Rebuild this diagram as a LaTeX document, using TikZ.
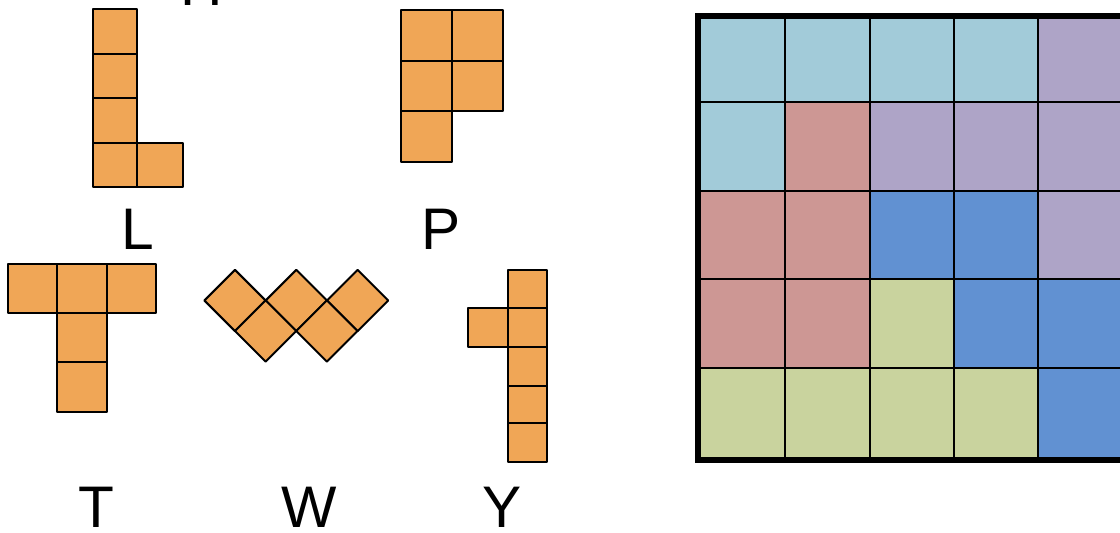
\documentclass[tikz,border=0pt]{standalone}
\usepackage{fontspec}
\setmainfont{Liberation Sans}
\definecolor{orng}{HTML}{F0A656}
\definecolor{lb}{HTML}{A2CBD9}
\definecolor{pu}{HTML}{AEA4C7}
\definecolor{rd}{HTML}{CD9794}
\definecolor{bl}{HTML}{6191D2}
\definecolor{gr}{HTML}{C9D39E}
\begin{document}
\begin{tikzpicture}[x=0.75pt,y=-0.75pt,
  cell/.style={fill=orng,draw=black,line width=1.5pt,line join=round},
  lbl/.style={anchor=base,inner sep=0pt,font=\fontsize{44}{50}\selectfont},
  gridline/.style={draw=black,line width=1.6pt},
  border/.style={draw=black,line width=4.5pt}]
\useasboundingbox (0,0) rectangle (1120,532);

% cut-off title letter at the top
\node[lbl] (h) at (202,5.7) {H};

% L piece
\foreach \yy in {9.3,53.7,98.1,142.5}
  \draw[cell] (92.6,\yy) rectangle ++(44.8,44.4);
\draw[cell] (137.4,142.5) rectangle ++(45.4,44.4);
\node[lbl] (lL) at (138,249) {L};

% P piece
\draw[cell] (401,10) rectangle (451.5,60.7);
\draw[cell] (451.5,10) rectangle (503,60.7);
\draw[cell] (401,60.7) rectangle (451.5,110.7);
\draw[cell] (451.5,60.7) rectangle (503,110.7);
\draw[cell] (401,110.7) rectangle (451.5,161.7);
\node[lbl] (lP) at (441,249) {P};

% T piece
\draw[cell] (7.9,264) rectangle (57.4,313.3);
\draw[cell] (57.4,264) rectangle (106.6,313.3);
\draw[cell] (106.6,264) rectangle (156,313.3);
\draw[cell] (57.4,313.3) rectangle (106.6,362.3);
\draw[cell] (57.4,362.3) rectangle (106.6,412.3);
\node[lbl] (lT) at (96,527) {T};

% W piece (diamonds)
\foreach \cx/\cy in {235/300.5, 296.3/300.5, 357.6/300.5, 265.6/331, 326.9/331}
  \draw[cell] (\cx-30.65,\cy) -- (\cx,\cy-30.65) -- (\cx+30.65,\cy) -- (\cx,\cy+30.65) -- cycle;
\node[lbl] (lW) at (309.6,527) {W};

% Y piece
\draw[cell] (468.4,308.3) rectangle (508,347.3);
\foreach \ya/\yb in {270/308.3, 308.3/347.3, 347.3/385.7, 385.7/423.3, 423.3/462.3}
  \draw[cell] (508,\ya) rectangle (547,\yb);
\node[lbl] (lY) at (501.7,527) {Y};

% coloured 5x5 board
\foreach \ya/\yb/\ca/\cb/\cc/\cd/\ce in {
  16/101.7/lb/lb/lb/lb/pu,
  101.7/191/lb/rd/pu/pu/pu,
  191/279.3/rd/rd/bl/bl/pu,
  279.3/368.3/rd/rd/gr/bl/bl,
  368.3/459.5/gr/gr/gr/gr/bl}{
  \fill[\ca] (698,\ya) rectangle (785.3,\yb);
  \fill[\cb] (785.3,\ya) rectangle (869.7,\yb);
  \fill[\cc] (869.7,\ya) rectangle (954.3,\yb);
  \fill[\cd] (954.3,\ya) rectangle (1038.3,\yb);
  \fill[\ce] (1038.3,\ya) rectangle (1140,\yb);
}
\foreach \xx in {785.3,869.7,954.3,1038.3}
  \draw[gridline] (\xx,16) -- (\xx,459.5);
\foreach \yy in {101.7,191,279.3,368.3}
  \draw[gridline] (698,\yy) -- (1140,\yy);
\draw[border] (698,16) rectangle (1140,459.5);
\end{tikzpicture}
\end{document}
